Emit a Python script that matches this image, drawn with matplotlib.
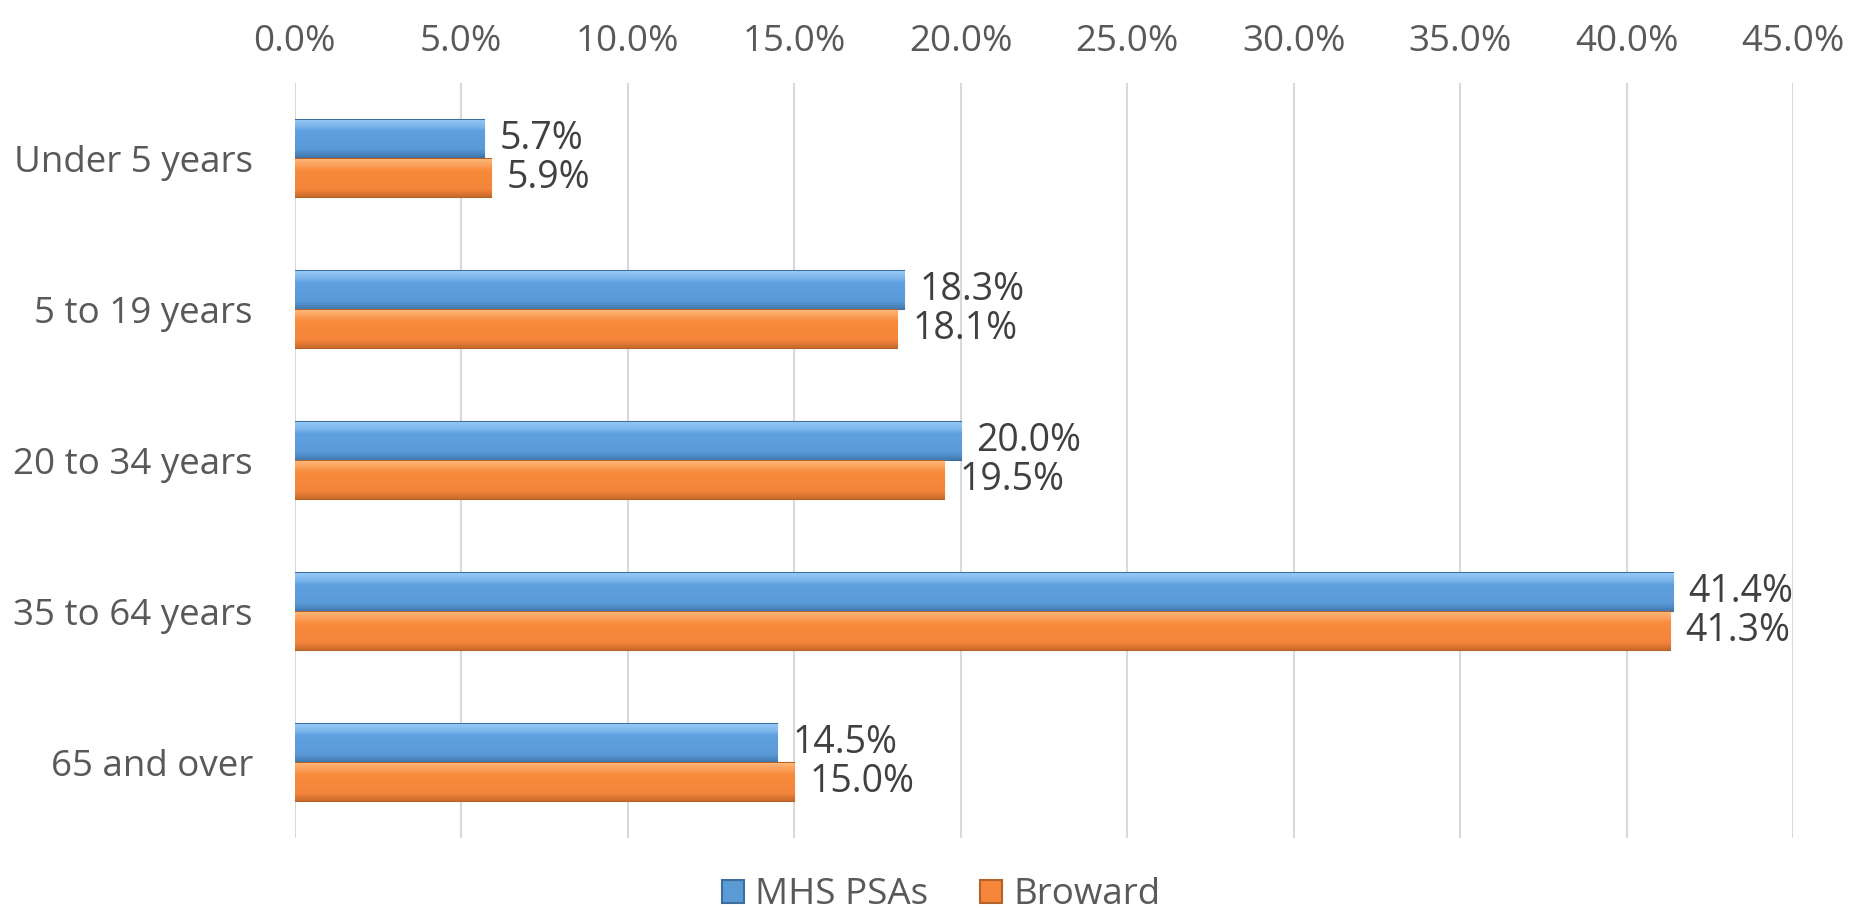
import matplotlib
matplotlib.use("Agg")
import matplotlib.pyplot as plt
import numpy as np
from matplotlib.ticker import FuncFormatter
from matplotlib.colors import to_rgb

categories = ["Under 5 years", "5 to 19 years", "20 to 34 years", "35 to 64 years", "65 and over"]
mhs = [5.7, 18.3, 20.0, 41.4, 14.5]
broward = [5.9, 18.1, 19.5, 41.3, 15.0]
series_names = ["MHS PSAs", "Broward"]
xticks = [0, 5, 10, 15, 20, 25, 30, 35, 40, 45]

plt.rcParams['font.family'] = ['Open Sans', 'DejaVu Sans']

fig = plt.figure(figsize=(18.64, 9.19), dpi=100)
ax = fig.add_axes([0.158, 0.088, 0.804, 0.822])

y = np.arange(len(categories))
h = 0.25
blue = "#5B9BD5"
orange = "#F5863A"
b1 = ax.barh(y - h/2 - 0.005, mhs, height=h, color=blue, edgecolor="#3F6E9E", linewidth=1.5, zorder=3, label=series_names[0])
b2 = ax.barh(y + h/2 + 0.005, broward, height=h, color=orange, edgecolor="#B5622A", linewidth=1.5, zorder=3, label=series_names[1])


def gradient(stops, n=60):
    pos = np.array([s[0] for s in stops])
    cols = np.array([to_rgb(s[1]) for s in stops])
    t = np.linspace(0, 1, n)
    arr = np.stack([np.interp(t, pos, cols[:, i]) for i in range(3)], axis=-1)
    return arr[:, None, :]

gblue = gradient([(0, "#93C8F4"), (0.18, "#7DB6EC"), (0.3, "#5FA0E0"), (0.8, "#5A9AD8"), (1.0, "#4379B0")])
gorange = gradient([(0, "#FDB676"), (0.18, "#FB9C55"), (0.3, "#F88B3C"), (0.8, "#F4843A"), (1.0, "#C96B2C")])

for bars, g in ((b1, gblue), (b2, gorange)):
    for rect in bars:
        x0 = rect.get_x(); w = rect.get_width()
        yb = rect.get_y(); hh = rect.get_height()
        im = ax.imshow(g, extent=(x0, x0 + w, yb + hh, yb), origin='upper',
                       aspect='auto', zorder=3.5, interpolation='bilinear')
        im.set_clip_path(rect)

for bars, vals in ((b1, mhs), (b2, broward)):
    for rect, v in zip(bars, vals):
        ax.annotate(f"{v:.1f}%", (v, rect.get_y() + rect.get_height()/2),
                    xytext=(11, 0), textcoords="offset points", va="center", ha="left",
                    fontsize=27, color="#404040", zorder=5)

ax.set_xlim(0, 45)
ax.set_ylim(len(categories) - 0.5, -0.5)
ax.set_xticks(xticks)
ax.xaxis.set_major_formatter(FuncFormatter(lambda v, p: f"{v:.1f}%"))
ax.xaxis.tick_top()
ax.set_yticks(y)
ax.set_yticklabels(categories)
ax.tick_params(axis='x', length=0, labelsize=26.5, labelcolor="#595959", pad=16)
ax.tick_params(axis='y', length=0, labelsize=26.5, labelcolor="#595959", pad=30)
ax.grid(axis='x', color="#D9D9D9", linewidth=1.5, zorder=0)
for s in ax.spines.values():
    s.set_visible(False)

leg = fig.legend(handles=[b1, b2], labels=series_names, loc="lower center", ncol=2,
                 bbox_to_anchor=(0.505, -0.03), frameon=False, fontsize=26.5,
                 handlelength=0.6, handleheight=0.6, handletextpad=0.3, columnspacing=1.4)
for t in leg.get_texts():
    t.set_color("#595959")

fig.savefig("out.png", dpi=100)
